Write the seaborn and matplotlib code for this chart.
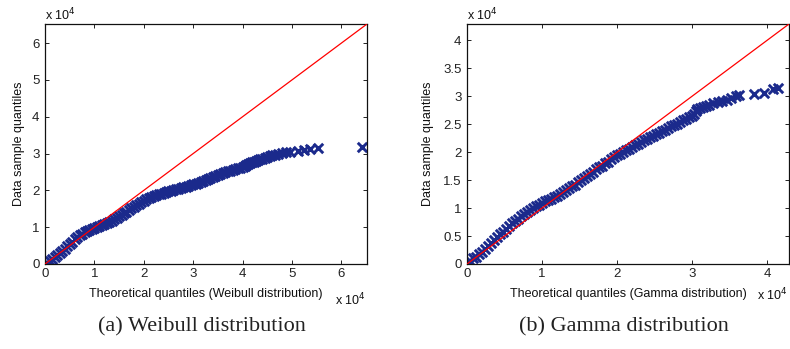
import matplotlib
matplotlib.use("Agg")
import matplotlib.pyplot as plt
import seaborn as sns

# ---- data (units of 10^4) ----
weibull_theoretical = [
    0.00, 0.05, 0.10, 0.15, 0.20, 0.25, 0.30, 0.35, 0.40, 0.45, 0.50, 0.55, 0.60, 0.65,
    0.70, 0.75, 0.80, 0.85, 0.90, 0.95, 1.00, 1.05, 1.10, 1.15, 1.20, 1.25, 1.30, 1.35,
    1.40, 1.45, 1.50, 1.55, 1.60, 1.65, 1.70, 1.75, 1.80, 1.85, 1.90, 1.95, 2.00, 2.05,
    2.10, 2.15, 2.20, 2.25, 2.30, 2.35, 2.40, 2.45, 2.50, 2.55, 2.60, 2.65, 2.70, 2.75,
    2.80, 2.85, 2.90, 2.95, 3.00, 3.05, 3.10, 3.15, 3.20, 3.25, 3.30, 3.35, 3.40, 3.45,
    3.50, 3.55, 3.60, 3.65, 3.70, 3.75, 3.80, 3.85, 3.90, 3.95, 4.00,
    4.04, 4.08, 4.12, 4.16, 4.20, 4.24, 4.28, 4.32, 4.36, 4.40, 4.45, 4.50, 4.55, 4.60,
    4.66, 4.72, 4.80, 4.88, 4.96, 5.13, 5.25, 5.37, 5.52, 6.41]
weibull_sample = [
    0.00, 0.04, 0.09, 0.14, 0.19, 0.24, 0.30, 0.36, 0.42, 0.48, 0.54, 0.61, 0.67, 0.73,
    0.78, 0.82, 0.86, 0.89, 0.92, 0.95, 0.98, 1.01, 1.04, 1.07, 1.09, 1.12, 1.15, 1.18,
    1.22, 1.26, 1.30, 1.34, 1.38, 1.42, 1.46, 1.51, 1.55, 1.60, 1.64, 1.68, 1.72, 1.76,
    1.79, 1.82, 1.84, 1.87, 1.89, 1.91, 1.93, 1.95, 1.97, 1.99, 2.01, 2.03, 2.04, 2.06,
    2.08, 2.10, 2.12, 2.14, 2.16, 2.18, 2.21, 2.23, 2.26, 2.28, 2.31, 2.33, 2.36, 2.39,
    2.42, 2.44, 2.47, 2.49, 2.52, 2.54, 2.56, 2.58, 2.60, 2.62, 2.64,
    2.67, 2.70, 2.72, 2.74, 2.76, 2.78, 2.80, 2.82, 2.84, 2.86, 2.88, 2.90, 2.93, 2.95,
    2.97, 2.99, 3.02, 3.03, 3.05, 3.08, 3.10, 3.12, 3.15, 3.17]

gamma_theoretical = [
    0.00, 0.04, 0.08, 0.12, 0.16, 0.20, 0.24, 0.28, 0.32, 0.36, 0.40, 0.44, 0.48, 0.52,
    0.56, 0.60, 0.64, 0.68, 0.72, 0.76, 0.80, 0.84, 0.88, 0.92, 0.96, 1.00, 1.04, 1.08,
    1.12, 1.16, 1.20, 1.24, 1.28, 1.32, 1.36, 1.40, 1.44, 1.48, 1.52, 1.56, 1.60, 1.64,
    1.68, 1.72, 1.76, 1.80, 1.84, 1.88, 1.92, 1.96, 2.00, 2.04, 2.08, 2.12, 2.16, 2.20,
    2.24, 2.28, 2.32, 2.36, 2.40, 2.44, 2.48, 2.52, 2.56, 2.60, 2.64, 2.68, 2.72, 2.76,
    2.80, 2.84, 2.88, 2.92, 2.96, 3.00,
    3.03, 3.05, 3.07, 3.10, 3.14, 3.18, 3.22, 3.28, 3.34, 3.40, 3.46, 3.52, 3.58, 3.62,
    3.83, 3.96, 4.08, 4.14]
gamma_sample = [
    0.02, 0.05, 0.10, 0.13, 0.18, 0.22, 0.27, 0.32, 0.37, 0.43, 0.48, 0.53, 0.58, 0.63,
    0.68, 0.73, 0.77, 0.81, 0.85, 0.89, 0.93, 0.97, 1.00, 1.03, 1.06, 1.09, 1.12, 1.14,
    1.17, 1.20, 1.22, 1.25, 1.28, 1.32, 1.35, 1.39, 1.42, 1.46, 1.50, 1.54, 1.57, 1.61,
    1.65, 1.69, 1.73, 1.76, 1.80, 1.83, 1.87, 1.91, 1.94, 1.97, 2.00, 2.03, 2.06, 2.09,
    2.12, 2.15, 2.18, 2.21, 2.24, 2.27, 2.29, 2.32, 2.35, 2.38, 2.40, 2.43, 2.46, 2.49,
    2.51, 2.54, 2.57, 2.60, 2.63, 2.65,
    2.68, 2.73, 2.77, 2.79, 2.81, 2.83, 2.85, 2.87, 2.89, 2.91, 2.94, 2.97, 3.00, 3.02,
    3.03, 3.06, 3.12, 3.15]

weibull_xticks = [0, 1, 2, 3, 4, 5, 6]
weibull_yticks = [0, 1, 2, 3, 4, 5, 6]
gamma_xticks = [0, 1, 2, 3, 4]
gamma_yticks = [0, 0.5, 1, 1.5, 2, 2.5, 3, 3.5, 4]

panels = [
    dict(x=weibull_theoretical, y=weibull_sample, lim=6.52, xt=weibull_xticks, yt=weibull_yticks,
         xlabel="Theoretical quantiles (Weibull distribution)", caption="(a) Weibull distribution"),
    dict(x=gamma_theoretical, y=gamma_sample, lim=4.29, xt=gamma_xticks, yt=gamma_yticks,
         xlabel="Theoretical quantiles (Gamma distribution)", caption="(b) Gamma distribution"),
]

sns.set_theme(style="white")
plt.rcParams["font.family"] = ["Liberation Sans", "DejaVu Sans"]

W, H = 790, 349
fig = plt.figure(figsize=(W / 100, H / 100), dpi=100)

def px(x, y):
    return x / W, 1 - y / H

axes_left = [45, 467]
ylabel_x = [19, 428]
ax_top, ax_bot, ax_w = 24, 264, 322
navy = "#1b2a8c"

for i, p in enumerate(panels):
    L = axes_left[i]
    ax = fig.add_axes([L / W, 1 - ax_bot / H, ax_w / W, (ax_bot - ax_top) / H])
    sns.scatterplot(x=p["x"], y=p["y"], marker="x", s=46, color=navy, linewidth=2.1, ax=ax, zorder=2)
    ax.axline((0, 0), slope=1, color="#ff0000", linewidth=0.9, zorder=3)
    ax.set_xlim(0, p["lim"])
    ax.set_ylim(0, p["lim"])
    ax.set_xticks(p["xt"])
    ax.set_yticks(p["yt"])
    ax.set_xticklabels([f"{v:g}" for v in p["xt"]])
    ax.set_yticklabels([f"{v:g}" for v in p["yt"]])
    ax.tick_params(direction="in", length=3, width=0.7, colors="#222222", labelsize=9.5,
                   top=True, right=True, bottom=True, left=True, pad=3)
    ax.tick_params(axis="y", pad=4)
    for sp in ax.spines.values():
        sp.set_visible(True)
        sp.set_color("#111111")
        sp.set_linewidth(0.9)
    ax.set_xlabel("")
    ax.set_ylabel("")
    ax.grid(False)
    cx = L + ax_w / 2
    fig.text(*px(cx, 294), p["xlabel"], ha="center", va="center", fontsize=9, color="#111111")
    fig.text(*px(ylabel_x[i], 144), "Data sample quantiles", ha="center", va="center",
             rotation=90, fontsize=9, color="#111111")
    fig.text(*px(L, 15), r"x 10$^4$", ha="left", va="center", fontsize=9, color="#111111")
    bx = [335, 757][i]
    by = [300, 295][i]
    fig.text(*px(bx, by), r"x 10$^4$", ha="left", va="center", fontsize=9, color="#111111")
    capx = [202, 624][i]
    fig.text(*px(capx, 327), p["caption"], ha="center", va="center", fontsize=16,
             family=["Liberation Serif", "DejaVu Serif"], color="#222222")

fig.savefig("out.png", dpi=100)
